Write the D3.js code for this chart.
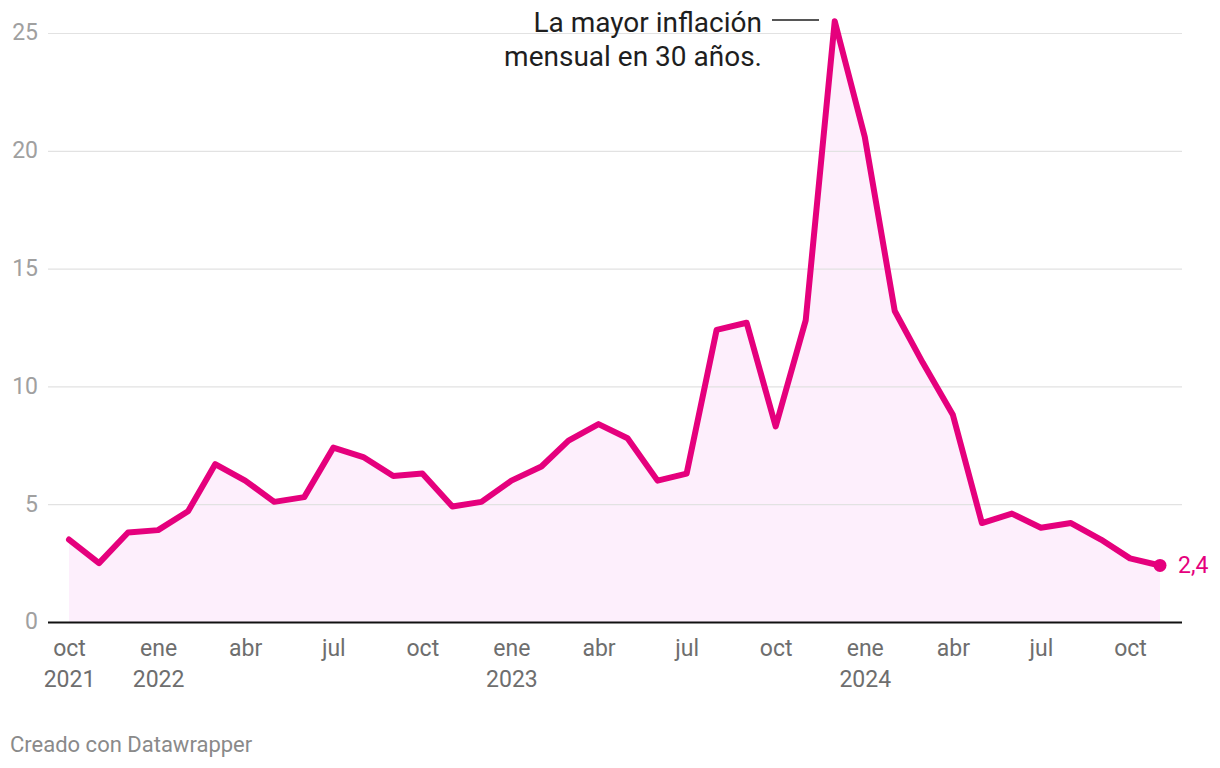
<!DOCTYPE html>
<html><head><meta charset="utf-8">
<script src="https://cdn.jsdelivr.net/npm/d3@7"></script>
<style>body{margin:0;background:#fff;font-family:Roboto,sans-serif}</style>
</head><body><svg id="c" width="1220" height="768"></svg>
<script>
const months = ["2021-10","2021-11","2021-12",
"2022-01","2022-02","2022-03","2022-04","2022-05","2022-06","2022-07","2022-08","2022-09","2022-10","2022-11","2022-12",
"2023-01","2023-02","2023-03","2023-04","2023-05","2023-06","2023-07","2023-08","2023-09","2023-10","2023-11","2023-12",
"2024-01","2024-02","2024-03","2024-04","2024-05","2024-06","2024-07","2024-08","2024-09","2024-10","2024-11"];
const inflation = [3.5,2.5,3.8,
3.9,4.7,6.7,6.0,5.1,5.3,7.4,7.0,6.2,6.3,4.9,5.1,
6.0,6.6,7.7,8.4,7.8,6.0,6.3,12.4,12.7,8.3,12.8,25.5,
20.6,13.2,11.0,8.8,4.2,4.6,4.0,4.2,3.5,2.7,2.4];
const yTicks = [0,5,10,15,20,25];
const xTickMonths = ["2021-10","2022-01","2022-04","2022-07","2022-10","2023-01","2023-04","2023-07","2023-10","2024-01","2024-04","2024-07","2024-10"];
const monthNames = {"01":"ene","04":"abr","07":"jul","10":"oct"};
const annotationLines = ["La mayor inflación","mensual en 30 años."];

const parse = d3.timeParse("%Y-%m");
const data = months.map((m,i)=>({date:parse(m), v:inflation[i]}));
const svg = d3.select("#c");
const color = "#e5007d";
const x = d3.scaleTime().domain([data[0].date, data[data.length-1].date]).range([69,1160]);
const y = d3.scaleLinear().domain([0,25]).range([622,33]);

// area
svg.append("path").datum(data)
  .attr("d", d3.area().x(d=>x(d.date)).y0(y(0)).y1(d=>y(d.v)))
  .attr("fill","#fdeffc");

// gridlines
const yAxis = d3.axisLeft(y).tickValues(yTicks).tickSize(-(1182-48)).tickFormat(d3.format("d"));
const gy = svg.append("g").attr("transform","translate(48,0)").call(yAxis);
gy.select(".domain").remove();
gy.selectAll(".tick line")
  .attr("stroke", d=> d===0 ? "#111" : "#e2e2e2").attr("stroke-width", d=> d===0 ? 2 : 1.2);
gy.selectAll(".tick text").attr("x",-10).attr("dy","0.3em").attr("fill","#a0a0a0")
  .style("font-family","Roboto").style("font-size","23px");

// x axis
const xAxis = d3.axisBottom(x).tickValues(xTickMonths.map(parse)).tickSize(0).tickFormat("");
const gx = svg.append("g").attr("transform",`translate(0,${y(0)})`).call(xAxis);
gx.select(".domain").remove();
gx.selectAll(".tick").each(function(d){
  const m = d3.timeFormat("%m")(d), yr = d3.timeFormat("%Y")(d);
  const t = d3.select(this).append("text").attr("fill","#6e6e6e").attr("text-anchor","middle")
    .style("font-family","Roboto").style("font-size","23px");
  t.append("tspan").attr("x",0).attr("y",34).text(monthNames[m]);
  if (m==="01" || d.getTime()===data[0].date.getTime())
    t.append("tspan").attr("x",0).attr("y",65).text(yr);
});

// line
svg.append("path").datum(data)
  .attr("d", d3.line().x(d=>x(d.date)).y(d=>y(d.v)))
  .attr("fill","none").attr("stroke",color).attr("stroke-width",6)
  .attr("stroke-linejoin","round").attr("stroke-linecap","round");

// end dot + label
const last = data[data.length-1];
svg.append("circle").attr("cx",x(last.date)).attr("cy",y(last.v)).attr("r",6.5).attr("fill",color);
svg.append("text").attr("x",x(last.date)+18).attr("y",y(last.v)+8).attr("fill",color)
  .style("font-family","Roboto").style("font-size","23px").text(d3.format(".1f")(last.v).replace(".",","));

// annotation
const ann = svg.append("text").attr("text-anchor","end").attr("fill","#1e1e1e")
  .style("font-family","Roboto").style("font-size","28px");
annotationLines.forEach((l,i)=>ann.append("tspan").attr("x",762).attr("y",32+i*34).text(l));
svg.append("line").attr("x1",772).attr("x2",819).attr("y1",20).attr("y2",20).attr("stroke","#1e1e1e").attr("stroke-width",1.5);

// footer
svg.append("text").attr("x",10).attr("y",752).attr("fill","#8a8a8a")
  .style("font-family","Roboto").style("font-size","22px").text("Creado con Datawrapper");
</script></body></html>
